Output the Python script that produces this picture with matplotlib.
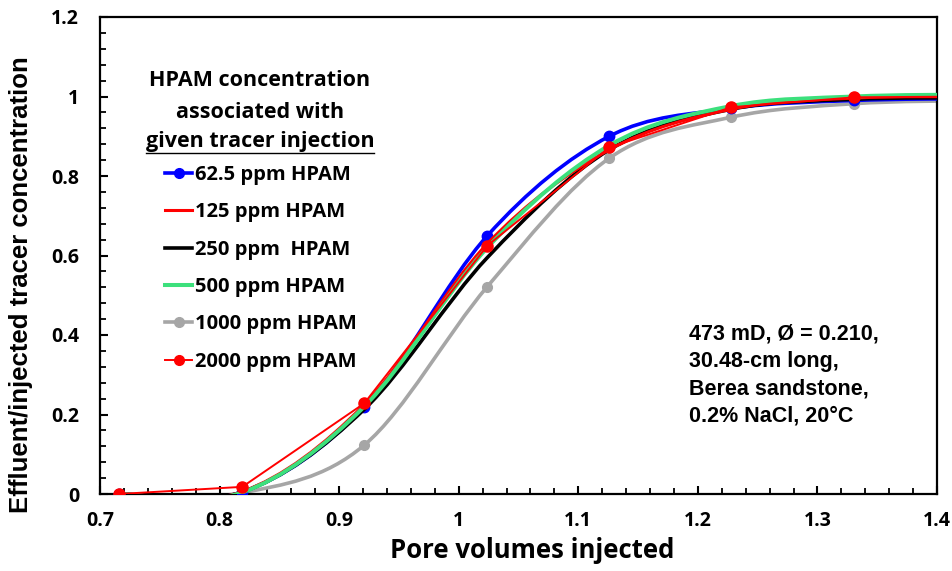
import numpy as np
import matplotlib
matplotlib.use('Agg')
import matplotlib.pyplot as plt
from matplotlib.path import Path
from matplotlib.patches import PathPatch
from matplotlib.lines import Line2D
from matplotlib.ticker import MultipleLocator

# pore volumes at which samples were taken (last one lies past the axis end)
pv = [0.716, 0.819, 0.921, 1.024, 1.126, 1.228, 1.331, 1.433]

c_62 = [0.0, 0.005, 0.218, 0.650, 0.900, 0.970, 0.990, 0.995]
c_125 = [0.0, 0.006, 0.225, 0.630, 0.866, 0.968, 0.996, 1.000]
c_250 = [0.0, 0.005, 0.213, 0.595, 0.866, 0.968, 0.993, 0.997]
c_500 = [0.0, 0.004, 0.220, 0.620, 0.877, 0.976, 1.000, 1.005]
c_1000 = [0.0, 0.003, 0.123, 0.522, 0.845, 0.948, 0.982, 0.990]
c_2000 = [0.0, 0.018, 0.228, 0.625, 0.872, 0.973, 0.998, 1.000]

labels = ['62.5 ppm HPAM', '125 ppm HPAM', '250 ppm  HPAM',
          '500 ppm HPAM', '1000 ppm HPAM', '2000 ppm HPAM']
xtick_vals = [0.7, 0.8, 0.9, 1.0, 1.1, 1.2, 1.3, 1.4]
xtick_txt = ['0.7', '0.8', '0.9', '1', '1.1', '1.2', '1.3', '1.4']
ytick_vals = [0, 0.2, 0.4, 0.6, 0.8, 1.0, 1.2]
ytick_txt = ['0', '0.2', '0.4', '0.6', '0.8', '1', '1.2']

CAL = 'Open Sans'          # stand-in for Calibri bold
ARIAL = 'Liberation Sans'  # stand-in for Arial bold

plt.rcParams['font.family'] = [CAL, 'DejaVu Sans']
plt.rcParams['font.weight'] = 'bold'


def smooth_path(xs, ys):
    # Excel style smoothed line: Catmull-Rom converted to cubic Bezier
    pts = np.column_stack([xs, ys])
    n = len(pts)
    verts = [pts[0]]
    codes = [Path.MOVETO]
    for i in range(n - 1):
        p0 = pts[i - 1] if i > 0 else pts[i]
        p1 = pts[i]
        p2 = pts[i + 1]
        p3 = pts[i + 2] if i + 2 < n else pts[i + 1]
        verts += [p1 + (p2 - p0) / 6, p2 - (p3 - p1) / 6, p2]
        codes += [Path.CURVE4] * 3
    return Path(verts, codes)


def smooth_line(ax, xs, ys, color, lw, z):
    patch = PathPatch(smooth_path(xs, ys), facecolor='none', edgecolor=color,
                      lw=lw, zorder=z, capstyle='round', joinstyle='round')
    ax.add_patch(patch)


fig = plt.figure(figsize=(9.53, 5.71), dpi=100)
ax = fig.add_axes([100 / 953, 77 / 571, 837 / 953, 477 / 571])

smooth_line(ax, pv, c_62, '#0000ff', 2.6, 3)
smooth_line(ax, pv, c_125, '#ff0000', 2.2, 4)
smooth_line(ax, pv, c_250, '#000000', 2.6, 3.5)
smooth_line(ax, pv, c_500, '#3ce07c', 2.9, 4.5)
smooth_line(ax, pv, c_1000, '#a6a6a6', 2.6, 2)
ax.plot(pv[:-1], c_1000[:-1], ls='none', marker='o', ms=7, color='#a6a6a6', zorder=2.1)
ax.plot(pv[:-1], c_62[:-1], ls='none', marker='o', ms=7.5, color='#0000ff', zorder=3.1)
ax.plot(pv, c_2000, color='#ff0000', lw=1.4, marker='o', ms=8, zorder=6)

ax.set_xlim(0.7, 1.4)
ax.set_ylim(0, 1.2)
ax.xaxis.set_minor_locator(MultipleLocator(0.02))
ax.yaxis.set_minor_locator(MultipleLocator(0.04))

for s in ax.spines.values():
    s.set_linewidth(1.6)
ax.tick_params(which='major', direction='in', length=6, width=1.5, labelsize=14)
ax.tick_params(which='minor', direction='in', length=4, width=1.3)

ax.set_xticks(xtick_vals)
ax.set_xticklabels(xtick_txt)
ax.set_yticks(ytick_vals)
ax.set_yticklabels(ytick_txt)
ax.tick_params(axis='x', which='major', pad=12)
ax.tick_params(axis='y', which='major', pad=15)

fig.text(532 / 953, 1 - 551 / 571, 'Pore volumes injected', ha='center',
         va='center', fontsize=18.5)
fig.text(21 / 953, 1 - 285 / 571, 'Effluent/injected tracer concentration',
         rotation=90, ha='center', va='center', fontfamily=ARIAL, fontsize=18.5)

# legend heading
heads = []
for txt, yy in [('HPAM concentration', 81), ('associated with', 112),
                ('given tracer injection', 142)]:
    heads.append(fig.text(260 / 953, 1 - yy / 571, txt, ha='center', va='center',
                          fontsize=15.5))

handles = [
    Line2D([], [], color='#0000ff', lw=2.6, marker='o', ms=7),
    Line2D([], [], color='#ff0000', lw=2.2),
    Line2D([], [], color='#000000', lw=2.6),
    Line2D([], [], color='#3ce07c', lw=2.9),
    Line2D([], [], color='#a6a6a6', lw=2.6, marker='o', ms=7),
    Line2D([], [], color='#ff0000', lw=1.4, marker='o', ms=7),
]
leg = ax.legend(handles, labels, loc='upper left',
                bbox_to_anchor=(165 / 953, 1 - 165 / 571),
                bbox_transform=fig.transFigure, frameon=False,
                prop={'family': CAL, 'weight': 'bold', 'size': 14.5},
                handlelength=1.35, handletextpad=0.12, labelspacing=0.86,
                borderpad=0, borderaxespad=0)

fig.text(689 / 953, 1 - 375 / 571,
         '473 mD, Ø = 0.210,\n30.48-cm long,\nBerea sandstone,\n0.2% NaCl, 20°C',
         ha='left', va='center', fontfamily=ARIAL, fontsize=15.5, linespacing=1.38)

# underline below the last heading line, as wide as the text
fig.canvas.draw()
bb = heads[2].get_window_extent().transformed(fig.transFigure.inverted())
fig.add_artist(Line2D([bb.x0, bb.x1], [1 - 153 / 571] * 2, color='black', lw=1.0))

fig.savefig('out.png', dpi=100)
